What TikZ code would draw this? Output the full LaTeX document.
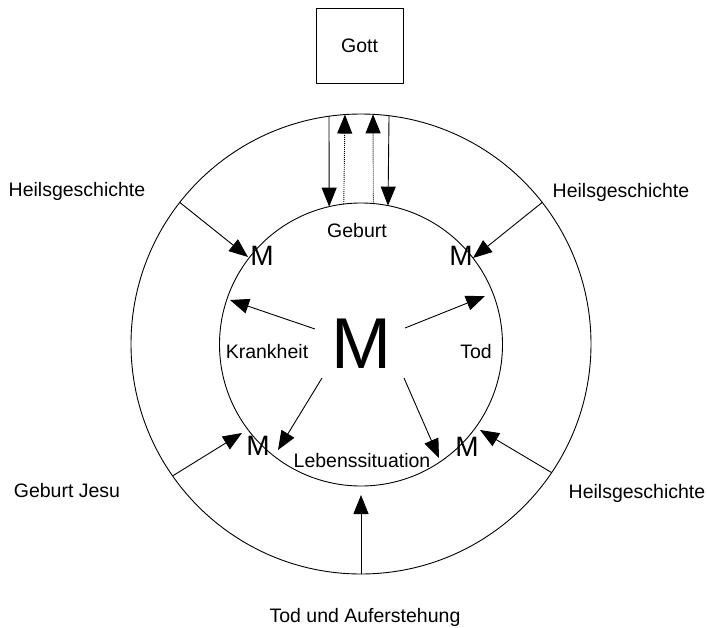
\documentclass[tikz,border=0pt]{standalone}
\usepackage{fontspec}
\setmainfont{Liberation Sans}
\usetikzlibrary{arrows.meta}
\begin{document}
\begin{tikzpicture}[x=1pt,y=-1pt,
  ring/.style={circle, draw, line width=0.9pt, inner sep=0pt, outer sep=0pt},
  lbl/.style={font=\fontsize{19.5}{22}\selectfont, inner sep=0pt, anchor=base},
  mm/.style={font=\fontsize{28}{30}\selectfont, inner sep=0pt, anchor=base},
  bigm/.style={font=\fontsize{72}{74}\selectfont, inner sep=0pt, anchor=base},
  gottbox/.style={draw, line width=0.9pt, minimum width=87pt, minimum height=75pt, inner sep=0pt, font=\fontsize{19.5}{22}\selectfont},
  arr/.style={line width=0.9pt, -{Triangle[length=19pt,width=15pt]}},
  darr/.style={arr, dash pattern=on 1pt off 1pt}
]
\useasboundingbox (0,0) rectangle (707,627);

% circles
\node[ring, minimum size=460pt] (outer) at (361,344) {};
\node[ring, minimum size=283pt] (inner) at (361,344.5) {};

% Gott
\node[gottbox] (gott) at (359.5,45.5) {Gott};

% labels
\node[lbl] (hl) at (77,196) {Heilsgeschichte};
\node[lbl] (hr) at (621,197) {Heilsgeschichte};
\node[lbl] (gj) at (67,497) {Geburt Jesu};
\node[lbl] (hbr) at (637,498) {Heilsgeschichte};
\node[lbl] (tua) at (365,622) {Tod und Auferstehung};
\node[lbl] (geb) at (357,237) {Geburt};
\node[lbl] (kr) at (267,358) {Krankheit};
\node[lbl] (tod) at (476,358) {Tod};
\node[lbl] (leb) at (362,467) {Lebenssituation};

% M nodes
\node[bigm] (mc) at (361,368) {M};
\node[mm] (mtl) at (262,265) {M};
\node[mm] (mtr) at (461,265) {M};
\node[mm] (mbl) at (258,455) {M};
\node[mm] (mbr) at (467,456) {M};

% arrow ends near the small M
\coordinate (ttl) at (248,257);
\coordinate (ttr) at (473,258);
\coordinate (tbl) at (242,433);
\coordinate (tbr) at (480,430);
\coordinate (tbot) at (361,495);

% arrows from the outside
\draw[arr] (outer.142) -- (ttl);
\draw[arr] (outer.38) -- (ttr);
\draw[arr] (outer.215.8) -- (tbl);
\draw[arr] (outer.326.6) -- (tbr);
\draw[arr] (outer.270) -- (tbot);

% arrows from the centre M
\coordinate (sul) at (315,329);
\coordinate (sur) at (405,328);
\coordinate (sll) at (322,378);
\coordinate (slr) at (404,378);
\coordinate (eul) at (230,300);
\coordinate (eur) at (485,296);
\coordinate (ell) at (278,450);
\coordinate (elr) at (439,458);
\draw[arr] (sul) -- (eul);
\draw[arr] (sur) -- (eur);
\draw[arr] (sll) -- (ell);
\draw[arr] (slr) -- (elr);

% vertical arrows at the top
\draw[arr] (outer.98.5) -- (inner.103.9);
\draw[arr] (outer.83.5) -- (inner.79.4);
\draw[darr] (inner.97.7) -- (outer.94.7);
\draw[darr] (inner.85.1) -- (outer.87);
\end{tikzpicture}
\end{document}
